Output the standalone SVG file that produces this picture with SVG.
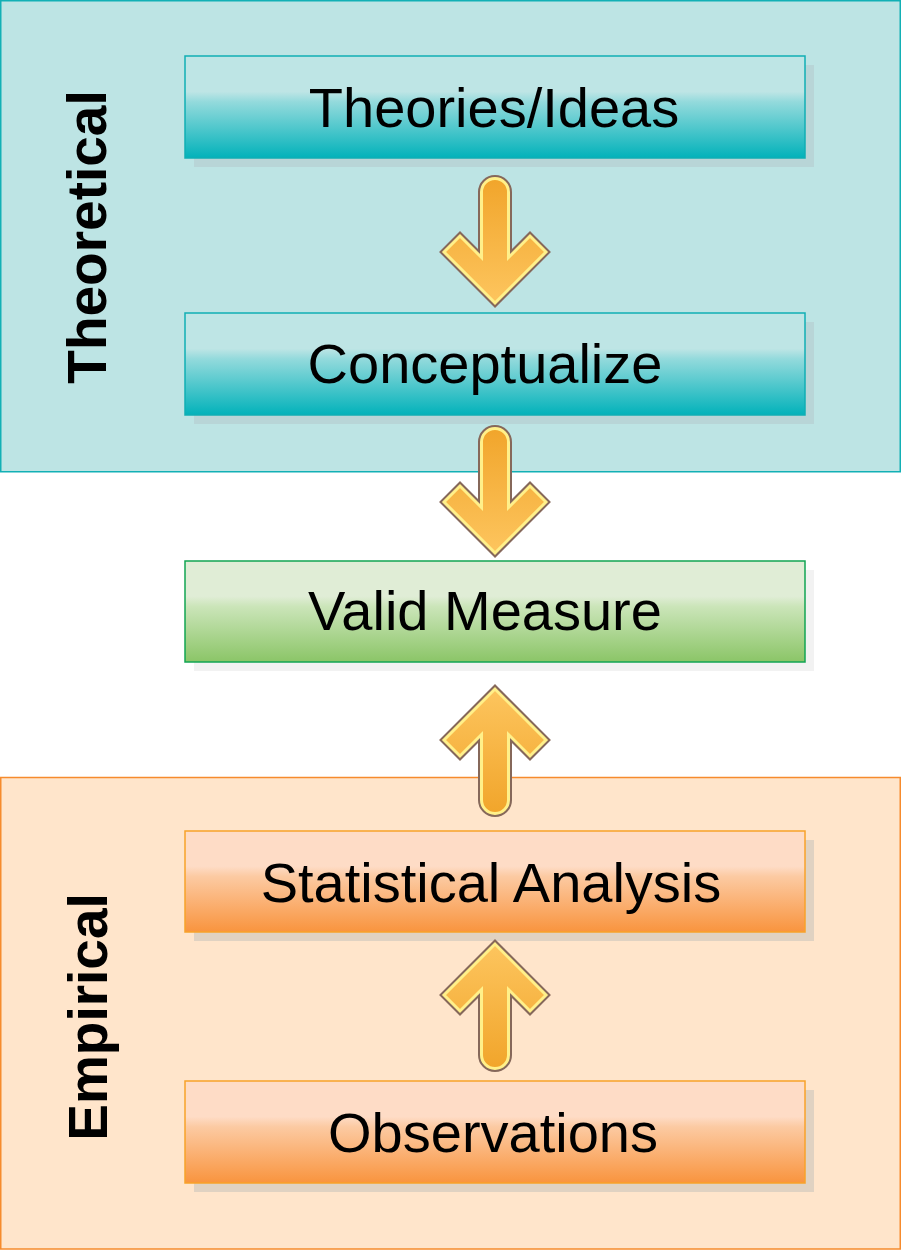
<svg xmlns="http://www.w3.org/2000/svg" width="901" height="1250" viewBox="0 0 901 1250">
  <defs>
    <linearGradient id="gTeal" x1="0" y1="0" x2="0" y2="1">
      <stop offset="0" stop-color="#BEE5E5"/>
      <stop offset="0.35" stop-color="#BEE5E5"/>
      <stop offset="0.45" stop-color="#93DADC"/>
      <stop offset="1" stop-color="#02B2BA"/>
    </linearGradient>
    <linearGradient id="gGreen" x1="0" y1="0" x2="0" y2="1">
      <stop offset="0" stop-color="#E0EDD6"/>
      <stop offset="0.35" stop-color="#E0EDD6"/>
      <stop offset="0.45" stop-color="#CBE5B9"/>
      <stop offset="1" stop-color="#8BC567"/>
    </linearGradient>
    <linearGradient id="gOrange" x1="0" y1="0" x2="0" y2="1">
      <stop offset="0" stop-color="#FEDCC6"/>
      <stop offset="0.35" stop-color="#FEDCC6"/>
      <stop offset="0.45" stop-color="#FCCAA2"/>
      <stop offset="1" stop-color="#F9943E"/>
    </linearGradient>
    <linearGradient id="gArrow" x1="0" y1="0" x2="0" y2="1">
      <stop offset="0" stop-color="#F1A52B"/>
      <stop offset="1" stop-color="#FDC55E"/>
    </linearGradient>
    <path id="arrowShape" d="M -13.5 82.5 L -13.5 17 A 13.5 13.5 0 0 1 13.5 17 L 13.5 82.5 L 35 61 L 51 77 L 0 128 L -51 77 L -35 61 Z"/>
    <g id="arrow">
      <use href="#arrowShape" fill="none" stroke="#86685A" stroke-width="7" stroke-linejoin="miter"/>
      <use href="#arrowShape" fill="url(#gArrow)" stroke="#FFF08A" stroke-width="3" stroke-linejoin="miter"/>
    </g>
  </defs>
  <style>
    .lbl { font-family: "Liberation Sans", Arial, sans-serif; font-size: 56px; fill: #000; text-anchor: middle; }
    .side { font-family: "Liberation Sans", Arial, sans-serif; font-size: 55px; font-weight: bold; fill: #000; text-anchor: middle; }
    .teal { fill: url(#gTeal); stroke: #10AEB4; stroke-width: 1.5; }
    .green { fill: url(#gGreen); stroke: #12A553; stroke-width: 1.5; }
    .orange { fill: url(#gOrange); stroke: #F8A22A; stroke-width: 1.5; }
  </style>

  <rect x="0" y="0" width="901" height="1250" fill="#FFFFFF"/>

  <g id="panel-theoretical">
    <rect x="0.75" y="0.75" width="899.5" height="471" fill="#BDE4E4" stroke="#12B0B5" stroke-width="1.5"/>
    <text class="side" transform="translate(106,237) rotate(-90)">Theoretical</text>
  </g>

  <g id="panel-empirical">
    <rect x="0.75" y="777.5" width="899.5" height="471.5" fill="#FFE5CB" stroke="#F68B2D" stroke-width="1.5"/>
    <text class="side" transform="translate(107,1017) rotate(-90)">Empirical</text>
  </g>

  <g id="node-theories">
    <rect x="194" y="65" width="620" height="102" fill="#B8D5D7"/>
    <rect x="185" y="56" width="620" height="102" class="teal"/>
    <text class="lbl" x="494" y="127">Theories/Ideas</text>
  </g>

  <g id="node-conceptualize">
    <rect x="194" y="322" width="620" height="102" fill="#B8D5D7"/>
    <rect x="185" y="313" width="620" height="102" class="teal"/>
    <text class="lbl" x="485" y="383">Conceptualize</text>
  </g>

  <g id="node-valid">
    <rect x="194" y="570" width="620" height="101" fill="#F2F2F2"/>
    <rect x="185" y="561" width="620" height="101" class="green"/>
    <text class="lbl" x="485" y="630">Valid Measure</text>
  </g>

  <g id="node-statistical">
    <rect x="194" y="840" width="620" height="101" fill="#E0D2C2"/>
    <rect x="185" y="831" width="620" height="101" class="orange"/>
    <text class="lbl" x="491" y="902">Statistical Analysis</text>
  </g>

  <g id="node-observations">
    <rect x="194" y="1090" width="620" height="102" fill="#E0D2C2"/>
    <rect x="185" y="1081" width="620" height="102" class="orange"/>
    <text class="lbl" x="493" y="1152">Observations</text>
  </g>

  <g id="connectors">
    <use href="#arrow" transform="translate(495,175)"/>
    <use href="#arrow" transform="translate(495,425)"/>
    <use href="#arrow" transform="translate(495,817) rotate(180)"/>
    <use href="#arrow" transform="translate(495,1072) rotate(180)"/>
  </g>
</svg>
